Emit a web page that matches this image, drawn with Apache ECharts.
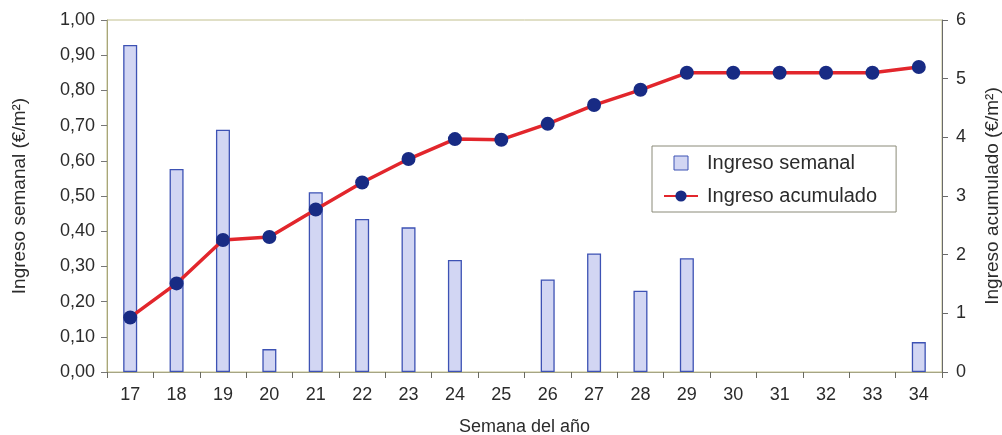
<!DOCTYPE html>
<html>
<head>
<meta charset="utf-8">
<script src="https://cdn.jsdelivr.net/npm/echarts@6/dist/echarts.min.js"></script>
<style>
  html, body { margin: 0; padding: 0; background: #fff; }
  #chart { width: 1002px; height: 435px; }
</style>
</head>
<body>
<div id="chart"></div>
<script>
// Semanas del año
const semanas = ['17','18','19','20','21','22','23','24','25','26','27','28','29','30','31','32','33','34'];
// Ingreso semanal (€/m²), eje izquierdo
const ingresoSemanal = [0.929, 0.577, 0.688, 0.065, 0.511, 0.435, 0.411, 0.318, 0, 0.263, 0.337, 0.231, 0.323, 0, 0, 0, 0, 0.085];
// Ingreso acumulado (€/m²), eje derecho
const ingresoAcumulado = [0.93, 1.51, 2.25, 2.30, 2.77, 3.23, 3.63, 3.97, 3.96, 4.23, 4.55, 4.81, 5.10, 5.10, 5.10, 5.10, 5.10, 5.20];

const txt = '#2b2b2b';
const font = 'Liberation Sans, Arial, sans-serif';

// Semanas sin ingreso: sin barra dibujada
const barData = ingresoSemanal.map(v => (v === 0 ? null : v));

const chart = echarts.init(document.getElementById('chart'));
chart.setOption({
  animation: false,
  textStyle: { fontFamily: font },
  grid: {
    left: 107, right: 60, top: 20, bottom: 63,
    outerBoundsMode: 'none',
    containLabel: false,
    show: true, borderColor: '#c2c08e', borderWidth: 1, backgroundColor: '#fff'
  },
  legend: {
    orient: 'vertical',
    left: 652, top: 146,
    padding: [7, 19, 6, 11],
    itemGap: 13,
    itemWidth: 34, itemHeight: 14,
    symbolKeepAspect: true,
    borderColor: '#8a8a78', borderWidth: 1,
    backgroundColor: '#fff',
    textStyle: { fontSize: 20, color: txt, fontFamily: font, padding: [0, 0, 0, 4] },
    data: [
      { name: 'Ingreso semanal', icon: 'path://M0,0H10V10H0Z', itemStyle: { color: '#d2d6f3', borderColor: '#3d52b4', borderWidth: 1 } },
      { name: 'Ingreso acumulado' }
    ]
  },
  xAxis: {
    type: 'category',
    data: semanas,
    name: 'Semana del año',
    nameLocation: 'middle',
    nameGap: 46,
    nameTextStyle: { fontSize: 18, color: txt },
    axisLine: { lineStyle: { color: '#a6a584' } },
    axisTick: { show: true, length: 6, lineStyle: { color: '#6a6a60' } },
    axisLabel: { fontSize: 18, color: txt, margin: 14 }
  },
  yAxis: [
    {
      type: 'value', min: 0, max: 1, interval: 0.1,
      name: 'Ingreso semanal (€/m²)',
      nameLocation: 'middle', nameGap: 78, nameRotate: 90,
      nameTextStyle: { fontSize: 19, color: txt },
      axisLine: { show: true, lineStyle: { color: '#a8a67a' } },
      axisTick: { show: true, length: 6, lineStyle: { color: '#777' } },
      splitLine: { show: false },
      axisLabel: {
        fontSize: 18, color: txt, margin: 12,
        formatter: v => v.toFixed(2).replace('.', ',')
      }
    },
    {
      type: 'value', min: 0, max: 6, interval: 1,
      name: 'Ingreso acumulado (€/m²)',
      nameLocation: 'middle', nameGap: 41, nameRotate: 90,
      nameTextStyle: { fontSize: 19, color: txt },
      axisLine: { show: true, lineStyle: { color: '#6a6a6a' } },
      axisTick: { show: true, length: 6, lineStyle: { color: '#6a6a6a' } },
      splitLine: { show: false },
      axisLabel: { fontSize: 18, color: txt, margin: 14 }
    }
  ],
  series: [
    {
      name: 'Ingreso semanal',
      type: 'bar',
      yAxisIndex: 0,
      data: barData,
      barWidth: 14,
      itemStyle: { color: '#d2d6f3', borderColor: '#3d52b4', borderWidth: 1.3 }
    },
    {
      name: 'Ingreso acumulado',
      type: 'line',
      yAxisIndex: 1,
      data: ingresoAcumulado,
      symbol: 'circle',
      symbolSize: 14,
      lineStyle: { color: '#e2262c', width: 3.5 },
      itemStyle: { color: '#182b84' }
    }
  ]
});
</script>
</body>
</html>
